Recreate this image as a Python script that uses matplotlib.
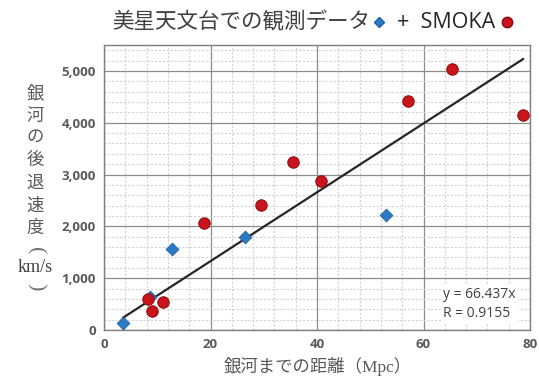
import matplotlib
matplotlib.use("Agg")
import matplotlib.pyplot as plt
from matplotlib.lines import Line2D
from matplotlib.ticker import MultipleLocator, FuncFormatter
import numpy as np

# Data
bisei_x = [3.6, 8.6, 12.7, 26.5, 52.9]
bisei_y = [130, 640, 1570, 1795, 2210]
smoka_x = [8.3, 9.1, 11.0, 18.8, 29.4, 35.4, 40.7, 57.0, 65.4, 78.7]
smoka_y = [590, 371, 545, 2063, 2417, 3244, 2870, 4423, 5032, 4154]
slope = 66.437
title_main = "美星天文台での観測データ"
title_sep = "+  SMOKA"
ylabel_chars = ["銀", "河", "の", "後", "退", "速", "度"]
xlabel = "銀河までの距離（Mpc）"
eq_text = "y = 66.437x\nR = 0.9155"

plt.rcParams['font.family'] = ['Noto Sans CJK JP', 'DejaVu Sans']

W, H = 539, 380
fig = plt.figure(figsize=(W/100, H/100), dpi=100)
ax = fig.add_axes([104/W, 1-330/H, 426/W, 285/H])

ax.set_xlim(0, 80)
ax.set_ylim(0, 5500)
ax.xaxis.set_major_locator(MultipleLocator(20))
ax.xaxis.set_minor_locator(MultipleLocator(4))
ax.yaxis.set_major_locator(MultipleLocator(1000))
ax.yaxis.set_minor_locator(MultipleLocator(200))
ax.grid(which='minor', color='#d2d2d2', linestyle=(0, (2, 1.5)), linewidth=0.8)
ax.grid(which='major', color='#8c8c8c', linestyle='-', linewidth=0.9)
ax.set_axisbelow(True)
for s in ax.spines.values():
    s.set_color('#7f7f7f')
    s.set_linewidth(1.0)
ax.tick_params(which='both', length=0, pad=6)
ax.yaxis.set_major_formatter(FuncFormatter(lambda v, p: f"{int(v):,}" if v <= 5000 else ""))
for lab in ax.get_xticklabels() + ax.get_yticklabels():
    lab.set_fontfamily('Open Sans')
    lab.set_fontweight('bold')
    lab.set_fontsize(9.5)
    lab.set_color('#595959')

# trendline
allx = np.array(bisei_x + smoka_x)
xs = np.array([allx.min(), allx.max()])
ax.plot(xs, slope * xs, color='#262626', linewidth=1.6, zorder=3)

ax.scatter(bisei_x, bisei_y, marker='D', s=42, color='#2b7bc4',
           edgecolors='#1f5f9e', linewidths=0.6, zorder=4)
ax.scatter(smoka_x, smoka_y, marker='o', s=68, color='#c9141c',
           edgecolors='#8a0a0e', linewidths=0.7, zorder=5)

fig.text(443/W, 1-304/H, eq_text, fontfamily='Open Sans', fontsize=10,
         color='#404040', va='center', ha='left', linespacing=1.3,
         bbox=dict(facecolor='white', edgecolor='none', pad=1.5))

# Title with markers
fig.canvas.draw()
r = fig.canvas.get_renderer()
ty = 1 - 22/H
x0 = 112/W
t1 = fig.text(x0, ty, title_main, fontsize=15.5, color='#404040', va='center', ha='left')
bb = t1.get_window_extent(renderer=r)
xd = (bb.x1 + 9) / W
fig.add_artist(Line2D([xd], [ty], marker='D', markersize=5.5, color='#2b7bc4',
                      markeredgecolor='#1f5f9e', transform=fig.transFigure))
t2 = fig.text(xd + 18/W, ty, title_sep, fontsize=15.5, color='#262626', va='center',
              ha='left', fontfamily='Open Sans')
bb2 = t2.get_window_extent(renderer=r)
fig.add_artist(Line2D([(bb2.x1 + 12) / W], [ty], marker='o', markersize=7.5,
                      color='#c9141c', markeredgecolor='#8a0a0e',
                      transform=fig.transFigure))

# Y label stacked vertically
yx = 35/W
for i, ch in enumerate(ylabel_chars):
    fig.text(yx, 1 - (93 + i*22.5)/H, ch, fontsize=12.5, color='#595959',
             ha='center', va='center')
fig.text(yx, 1 - 251/H, "(", fontsize=16, color='#707070', ha='center', va='center',
         rotation=-90, fontfamily='Liberation Serif')
fig.text(yx, 1 - 268/H, "km/s", fontsize=13, color='#404040', ha='center', va='center',
         fontfamily='Liberation Serif')
fig.text(yx, 1 - 287/H, ")", fontsize=16, color='#707070', ha='center', va='center',
         rotation=-90, fontfamily='Liberation Serif')

# X label
fig.text(318/W, 1 - 367/H, xlabel, fontsize=12.5, color='#595959', ha='center',
         va='center', fontfamily=['Liberation Serif', 'Noto Sans CJK JP'])

fig.savefig("out.png", dpi=100)
